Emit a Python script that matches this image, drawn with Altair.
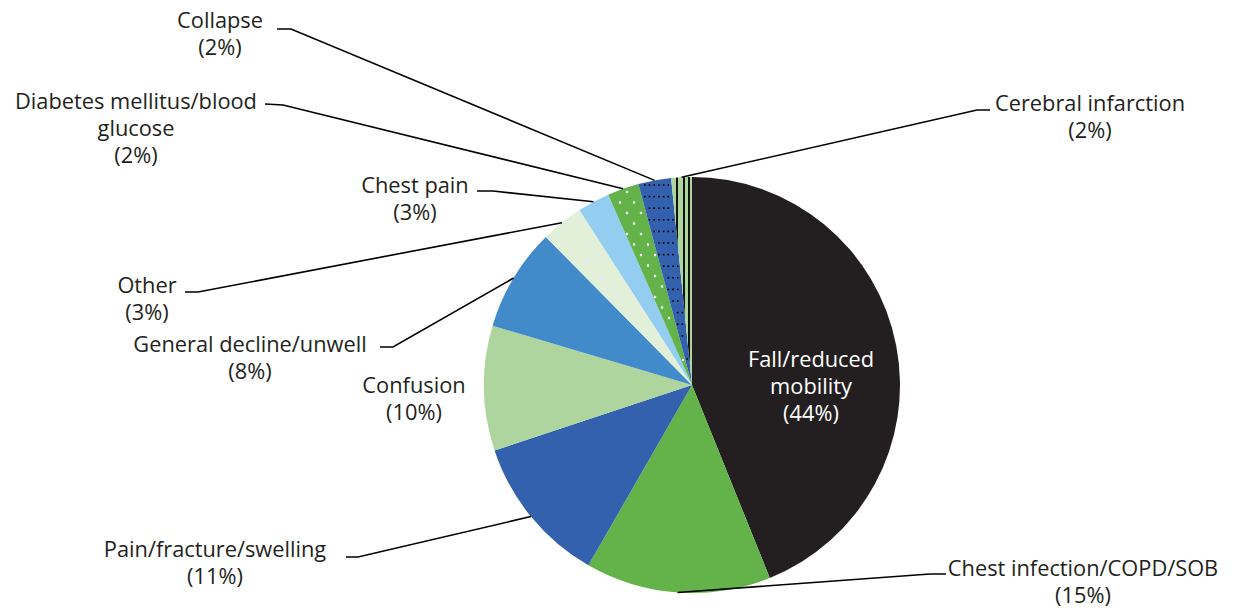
import math
import altair as alt
import pandas as pd

# ---------------- data ----------------
categories = ["Fall/reduced mobility", "Chest infection/COPD/SOB", "Pain/fracture/swelling",
              "Confusion", "General decline/unwell", "Other", "Chest pain",
              "Diabetes mellitus/blood glucose", "Collapse", "Cerebral infarction"]
values = [43.9, 14.4, 11.6, 9.7, 8.0, 3.3, 2.5, 2.45, 2.55, 1.6]
percent_labels = ["44%", "15%", "11%", "10%", "8%", "3%", "3%", "2%", "2%", "2%"]
colors = ["#231f20", "#63b34a", "#3461ad", "#aed59e", "#428bca", "#e2f0d9", "#93cdf0",
          "#63b34a", "#3461ad", "#aed59e"]

# ---------------- layout / style ----------------
PAGE_W, PAGE_H, MARGIN = 1234, 608, 8
CX, CY, R = 692, 385, 208
FONT = "Open Sans"
FS = 21.8
LINE_H = 27
TXT = "#231f20"

label_layout = {
    "Fall/reduced mobility": dict(lines=["Fall/reduced", "mobility"], x=811, y=360, color="white", leader=None),
    "Chest infection/COPD/SOB": dict(lines=["Chest infection/COPD/SOB"], x=1083, y=569, leader=[(930, 574), (946, 574)]),
    "Pain/fracture/swelling": dict(lines=["Pain/fracture/swelling"], x=215, y=550, leader=[(358, 557), (346, 557)]),
    "Confusion": dict(lines=["Confusion"], x=414, y=386, leader=None),
    "General decline/unwell": dict(lines=["General decline/unwell"], x=250, y=345, leader=[(393, 347), (380, 347)]),
    "Other": dict(lines=["Other"], x=147, y=286, leader=[(198, 292), (185, 292)]),
    "Chest pain": dict(lines=["Chest pain"], x=415, y=186, leader=[(493, 191), (477, 191)]),
    "Diabetes mellitus/blood glucose": dict(lines=["Diabetes mellitus/blood", "glucose"], x=136, y=102, leader=[(283, 105), (265, 104)]),
    "Collapse": dict(lines=["Collapse"], x=220, y=21, leader=[(291, 29), (277, 29)]),
    "Cerebral infarction": dict(lines=["Cerebral infarction"], x=1090, y=104, leader=[(977, 110), (990, 110)]),
}

# ---------------- derived tables ----------------
starts, ends = [], []
acc = 0.0
for v in values:
    starts.append(acc)
    acc += v
    ends.append(acc)
total = acc

pie_df = pd.DataFrame({"category": categories, "value": values, "start": starts, "end": ends})


def polar(frac, r):
    a = 2 * math.pi * frac
    return CX + r * math.sin(a), CY - r * math.cos(a)


line_rows = []
text_rows = []
for cat, pct, s, e in zip(categories, percent_labels, starts, ends):
    lay = label_layout[cat]
    lines = lay["lines"] + ["(" + pct + ")"]
    for i, t in enumerate(lines):
        text_rows.append(dict(x=lay["x"], y=lay["y"] + i * LINE_H, text=t, color=lay.get("color", TXT)))
    if lay["leader"]:
        ax, ay = polar((s + e) / 2 / total, R)
        pts = [(ax, ay)] + lay["leader"]
        for k, (px, py) in enumerate(pts):
            line_rows.append(dict(category=cat, k=k, x=px, y=py))

lines_df = pd.DataFrame(line_rows)
text_df = pd.DataFrame(text_rows)


def wedge_pattern(cat, dx, dy, stagger, x0, y0):
    i = categories.index(cat)
    a0, a1 = starts[i] / total * 2 * math.pi, ends[i] / total * 2 * math.pi
    pts = []
    j = 0
    y = CY - R + y0
    while y < CY:
        x = CX - R + x0 + (stagger if j % 2 else 0)
        while x < CX + R:
            ddx, ddy = x - CX, y - CY
            r = math.hypot(ddx, ddy)
            if 3 < r < R - 2:
                a = math.atan2(ddx, -ddy) % (2 * math.pi)
                m = 1.2 / r
                if a0 + m < a < a1 - m:
                    pts.append(dict(x=x, y=y))
            x += dx
        y += dy
        j += 1
    return pd.DataFrame(pts)


black_dots = wedge_pattern("Collapse", 4.7, 11.6, 0, 1.0, 8.0)
white_dots = wedge_pattern("Diabetes mellitus/blood glucose", 14, 10.5, 7, 3.0, 15.0)

# ---------------- scales ----------------
PLOT_W = PAGE_W - 2 * MARGIN
PLOT_H = PAGE_H - MARGIN
xs = alt.Scale(domain=[MARGIN, MARGIN + PLOT_W], range=[0, PLOT_W], nice=False, zero=False)
ys = alt.Scale(domain=[MARGIN, MARGIN + PLOT_H], range=[0, PLOT_H], nice=False, zero=False)
theta_scale = alt.Scale(domain=[0, total], range=[0, 2 * math.pi])

pie = alt.Chart(pie_df).mark_arc(outerRadius=R).encode(
    theta=alt.Theta("start:Q", scale=theta_scale, stack=None),
    theta2=alt.Theta2("end:Q"),
    color=alt.Color("category:N", scale=alt.Scale(domain=categories, range=colors), legend=None),
    x=alt.value(CX - MARGIN),
    y=alt.value(CY - MARGIN),
)

stripe_grad = alt.LinearGradient(
    gradient="linear", x1=0, x2=1, y1=0, y2=0,
    stops=[
        alt.GradientStop(offset=0.0, color="#aed59e"),
        alt.GradientStop(offset=0.23, color="#aed59e"),
        alt.GradientStop(offset=0.23, color="#111111"),
        alt.GradientStop(offset=0.31, color="#111111"),
        alt.GradientStop(offset=0.31, color="#aed59e"),
        alt.GradientStop(offset=0.57, color="#aed59e"),
        alt.GradientStop(offset=0.57, color="#111111"),
        alt.GradientStop(offset=0.65, color="#111111"),
        alt.GradientStop(offset=0.65, color="#aed59e"),
        alt.GradientStop(offset=0.83, color="#aed59e"),
        alt.GradientStop(offset=0.83, color="#111111"),
        alt.GradientStop(offset=0.91, color="#111111"),
        alt.GradientStop(offset=0.91, color="#aed59e"),
        alt.GradientStop(offset=1.0, color="#aed59e"),
    ],
)

stripes = alt.Chart(pie_df).transform_filter(
    alt.datum.category == "Cerebral infarction"
).mark_arc(outerRadius=R, fill=stripe_grad).encode(
    theta=alt.Theta("start:Q", scale=theta_scale, stack=None),
    theta2=alt.Theta2("end:Q"),
    x=alt.value(CX - MARGIN),
    y=alt.value(CY - MARGIN),
)

bdots = alt.Chart(black_dots).mark_square(size=2.6, color="#000000", opacity=1).encode(
    x=alt.X("x:Q", scale=xs, axis=None),
    y=alt.Y("y:Q", scale=ys, axis=None),
)
wdots = alt.Chart(white_dots).mark_square(size=5, color="#ffffff", opacity=1).encode(
    x=alt.X("x:Q", scale=xs, axis=None),
    y=alt.Y("y:Q", scale=ys, axis=None),
)

leaders = alt.Chart(lines_df).mark_line(color="#000000", strokeWidth=1.6).encode(
    x=alt.X("x:Q", scale=xs, axis=None),
    y=alt.Y("y:Q", scale=ys, axis=None),
    detail="category:N",
    order="k:Q",
)

texts = alt.Chart(text_df).mark_text(
    font=FONT, fontSize=FS, align="center", baseline="middle"
).encode(
    x=alt.X("x:Q", scale=xs, axis=None),
    y=alt.Y("y:Q", scale=ys, axis=None),
    text="text:N",
    color=alt.Color("color:N", scale=None),
)

chart = alt.layer(pie, stripes, bdots, wdots, leaders, texts).properties(
    width=PLOT_W,
    height=PLOT_H,
    padding=0,
    autosize="none",
).configure_view(stroke=None)

chart.save("out.html", embed_options={"renderer": "svg", "actions": False})
